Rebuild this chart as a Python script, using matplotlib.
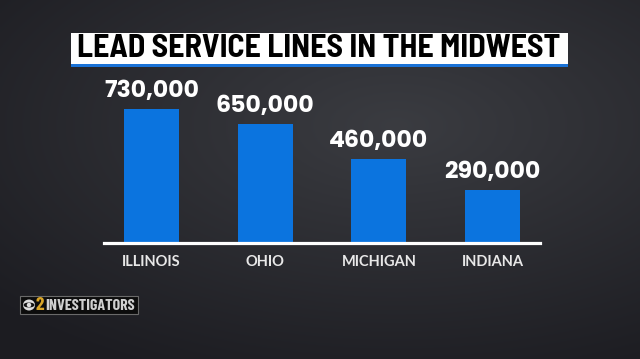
import numpy as np
import matplotlib.pyplot as plt
from matplotlib.patches import Rectangle, Ellipse

# Данні з графіка
states = ['ILLINOIS', 'OHIO', 'MICHIGAN', 'INDIANA']
lead_lines = [730000, 650000, 460000, 290000]
value_labels = ['730,000', '650,000', '460,000', '290,000']
title = 'LEAD SERVICE LINES IN THE MIDWEST'

W, H = 640, 359
fig = plt.figure(figsize=(W / 100, H / 100), dpi=100)

# Темний фон з м'яким градієнтом
bg = fig.add_axes([0, 0, 1, 1])
yy, xx = np.mgrid[0:1:200j, 0:1:360j]
r = np.sqrt(((xx - 0.62) / 1.0) ** 2 + ((yy - 0.35) / 0.9) ** 2)
shade = np.clip(1 - r / 0.85, 0, 1)
dark = np.array([0.11, 0.11, 0.13])
light = np.array([0.23, 0.235, 0.255])
img = dark + (light - dark) * shade[..., None]
bg.imshow(img, extent=[0, 1, 0, 1], aspect='auto', origin='upper')
bg.set_xlim(0, 1)
bg.set_ylim(0, 1)
bg.axis('off')

# Рамка заголовка з синьою смужкою знизу
fig.patches.append(Rectangle((71 / W, 1 - 67 / H), 497 / W, 34 / H,
                             transform=fig.transFigure, facecolor='white',
                             edgecolor='none', zorder=2))
fig.patches.append(Rectangle((71 / W, 1 - 67 / H), 497 / W, 3 / H,
                             transform=fig.transFigure, facecolor='#1a72d6',
                             edgecolor='none', zorder=3))
fig.text(319 / W, 1 - 48.5 / H, title, ha='center', va='center', color='black',
         fontsize=23, fontweight='bold',
         family=['Barlow Semi Condensed', 'Roboto Condensed', 'DejaVu Sans'],
         zorder=4)

# Стовпчикова діаграма
ax = fig.add_axes([104 / W, 1 - 243 / H, 436 / W, 163 / H])
ax.patch.set_alpha(0)
x = np.arange(len(states))
bars = ax.bar(x, lead_lines, width=0.484, color='#0b74df', zorder=2)
ax.set_xlim(-0.418, len(states) - 1 + 0.418)
ax.set_ylim(0, 888000)

for bar, lab in zip(bars, value_labels):
    ax.annotate(lab, (bar.get_x() + bar.get_width() / 2, bar.get_height()),
                xytext=(0, 4), textcoords='offset points', ha='center',
                va='bottom', color='white', fontsize=17, fontweight='bold',
                family=['Poppins', 'Lato', 'DejaVu Sans'])

for side in ['top', 'left', 'right']:
    ax.spines[side].set_visible(False)
ax.spines['bottom'].set_color('white')
ax.spines['bottom'].set_linewidth(2.3)
ax.set_yticks([])
ax.set_xticks(x)
ax.set_xticklabels(states, color='#e8e8e8', fontsize=10.5, fontweight='bold',
                   family=['Lato', 'DejaVu Sans'])
ax.tick_params(axis='x', length=0, pad=9)

# Логотип CBS 2 INVESTIGATORS
fig.patches.append(Rectangle((20 / W, 1 - 314 / H), 118 / W, 18 / H,
                             transform=fig.transFigure, facecolor='#0c0c0c',
                             edgecolor='#6a6a6a', linewidth=0.8, zorder=2))
fig.patches.append(Ellipse((29 / W, 1 - 305 / H), 12 / W, 11 / H,
                           transform=fig.transFigure, facecolor='#dddddd',
                           edgecolor='none', zorder=3))
fig.patches.append(Ellipse((29 / W, 1 - 305 / H), 11 / W, 5 / H,
                           transform=fig.transFigure, facecolor='#111111',
                           edgecolor='none', zorder=4))
fig.patches.append(Ellipse((29 / W, 1 - 305 / H), 4.5 / W, 4.5 / H,
                           transform=fig.transFigure, facecolor='#dddddd',
                           edgecolor='none', zorder=5))
fig.text(40 / W, 1 - 305 / H, '2', ha='center', va='center', color='#d9a528',
         fontsize=14, fontweight='bold',
         family=['Barlow Condensed', 'DejaVu Sans'], zorder=5)
fig.text(45 / W, 1 - 305.5 / H, 'INVESTIGATORS', ha='left', va='center',
         color='#d0d0d0', fontsize=11.5, fontweight='bold',
         family=['Barlow Condensed', 'DejaVu Sans'], zorder=5)

fig.savefig('out.png', dpi=100)
